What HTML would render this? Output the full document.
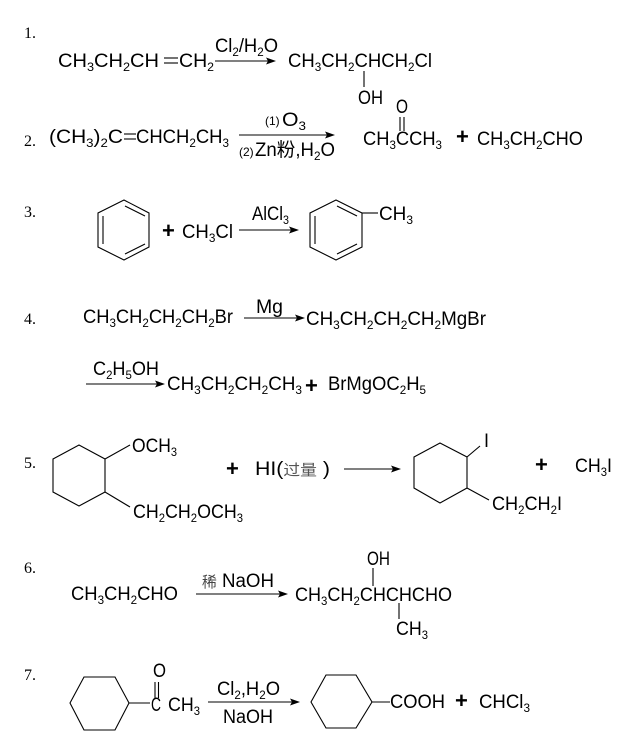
<!DOCTYPE html>
<html><head><meta charset="utf-8"><style>
html,body{margin:0;padding:0;background:#fff;}
svg{display:block;}
text{font-family:"Liberation Sans Narrow","Liberation Sans","Noto Sans CJK SC",sans-serif;font-size:19px;fill:#000;}
text.n{font-family:"Liberation Serif",serif;font-size:16px;}
tspan.s{font-size:12px;}
line,polyline,polygon.r{stroke:#000;stroke-width:1.1;fill:none;}
polygon.a{fill:#000;stroke:none;}
</style></head><body>
<svg width="640" height="736" viewBox="0 0 640 736" xmlns="http://www.w3.org/2000/svg">
<!-- 1 -->
<text class="n" x="24" y="38">1.</text>
<text x="58" y="67" textLength="101" lengthAdjust="spacingAndGlyphs">CH<tspan class="s" dy="4">3</tspan><tspan dy="-4">CH</tspan><tspan class="s" dy="4">2</tspan><tspan dy="-4">CH</tspan></text>
<line x1="164" y1="58" x2="178" y2="58"/><line x1="164" y1="63" x2="178" y2="63"/>
<text x="179" y="67" textLength="35" lengthAdjust="spacingAndGlyphs">CH<tspan class="s" dy="4">2</tspan></text>
<text x="215" y="52" textLength="63" lengthAdjust="spacingAndGlyphs">Cl<tspan class="s" dy="4">2</tspan><tspan dy="-4">/H</tspan><tspan class="s" dy="4">2</tspan><tspan dy="-4">O</tspan></text>
<line x1="215" y1="61" x2="270" y2="61"/><polygon class="a" points="276,61 266,57.5 268,61 266,64.5"/>
<text x="288" y="67" textLength="144" lengthAdjust="spacingAndGlyphs">CH<tspan class="s" dy="4">3</tspan><tspan dy="-4">CH</tspan><tspan class="s" dy="4">2</tspan><tspan dy="-4">CHCH</tspan><tspan class="s" dy="4">2</tspan><tspan dy="-4">Cl</tspan></text>
<line x1="364" y1="71" x2="364" y2="87"/>
<text x="358" y="104" textLength="25" lengthAdjust="spacingAndGlyphs">OH</text>
<!-- 2 -->
<text class="n" x="24" y="146">2.</text>
<text x="49" y="143" textLength="74" lengthAdjust="spacingAndGlyphs">(CH<tspan class="s" dy="4">3</tspan><tspan dy="-4">)</tspan><tspan class="s" dy="4">2</tspan><tspan dy="-4">C</tspan></text>
<line x1="124" y1="134" x2="136" y2="134"/><line x1="124" y1="139" x2="136" y2="139"/>
<text x="136" y="143" textLength="93" lengthAdjust="spacingAndGlyphs">CHCH<tspan class="s" dy="4">2</tspan><tspan dy="-4">CH</tspan><tspan class="s" dy="4">3</tspan></text>
<text x="265" y="125" style="font-size:12px">(1)</text>
<text x="282" y="126" textLength="24" lengthAdjust="spacingAndGlyphs">O<tspan class="s" dy="4">3</tspan></text>
<line x1="239" y1="135" x2="328" y2="135"/><polygon class="a" points="335,135 325,131.5 327,135 325,138.5"/>
<text x="239" y="156" style="font-size:12px">(2)</text>
<text x="255" y="156" textLength="80" lengthAdjust="spacingAndGlyphs">Zn粉,H<tspan class="s" dy="4">2</tspan><tspan dy="-4">O</tspan></text>
<text x="396" y="113" textLength="12" lengthAdjust="spacingAndGlyphs">O</text>
<line x1="400" y1="117" x2="400" y2="131"/><line x1="404" y1="117" x2="404" y2="131"/>
<text x="363" y="145" textLength="79" lengthAdjust="spacingAndGlyphs">CH<tspan class="s" dy="4">3</tspan><tspan dy="-4">CCH</tspan><tspan class="s" dy="4">3</tspan></text>
<text x="456" y="144" style="font-size:22px;font-weight:bold">+</text>
<text x="477" y="145" textLength="106" lengthAdjust="spacingAndGlyphs">CH<tspan class="s" dy="4">3</tspan><tspan dy="-4">CH</tspan><tspan class="s" dy="4">2</tspan><tspan dy="-4">CHO</tspan></text>
<!-- 3 -->
<text class="n" x="24" y="217">3.</text>
<polygon class="r" points="124,200 149,213 149,247 124,260 98,247 98,213"/>
<line x1="103" y1="216" x2="103" y2="244"/><line x1="125" y1="206" x2="145" y2="216"/><line x1="145" y1="244" x2="125" y2="254"/>
<text x="162" y="238" style="font-size:22px;font-weight:bold">+</text>
<text x="182" y="238" textLength="51" lengthAdjust="spacingAndGlyphs">CH<tspan class="s" dy="4">3</tspan><tspan dy="-4">Cl</tspan></text>
<text x="252" y="220" textLength="37" lengthAdjust="spacingAndGlyphs">AlCl<tspan class="s" dy="4">3</tspan></text>
<line x1="239" y1="230" x2="292" y2="230"/><polygon class="a" points="299,230 289,226.5 291,230 289,233.5"/>
<polygon class="r" points="336,200 362,213 362,247 336,260 310,247 310,213"/>
<line x1="315" y1="216" x2="315" y2="244"/><line x1="337" y1="206" x2="357" y2="216"/><line x1="357" y1="244" x2="337" y2="254"/>
<line x1="362" y1="213" x2="378" y2="213"/>
<text x="379" y="220" textLength="34" lengthAdjust="spacingAndGlyphs">CH<tspan class="s" dy="4">3</tspan></text>
<!-- 4 -->
<text class="n" x="24" y="324">4.</text>
<text x="83" y="323" textLength="150" lengthAdjust="spacingAndGlyphs">CH<tspan class="s" dy="4">3</tspan><tspan dy="-4">CH</tspan><tspan class="s" dy="4">2</tspan><tspan dy="-4">CH</tspan><tspan class="s" dy="4">2</tspan><tspan dy="-4">CH</tspan><tspan class="s" dy="4">2</tspan><tspan dy="-4">Br</tspan></text>
<text x="256" y="313" textLength="27" lengthAdjust="spacingAndGlyphs">Mg</text>
<line x1="244" y1="318" x2="298" y2="318"/><polygon class="a" points="305,318 295,314.5 297,318 295,321.5"/>
<text x="306" y="325" textLength="180" lengthAdjust="spacingAndGlyphs">CH<tspan class="s" dy="4">3</tspan><tspan dy="-4">CH</tspan><tspan class="s" dy="4">2</tspan><tspan dy="-4">CH</tspan><tspan class="s" dy="4">2</tspan><tspan dy="-4">CH</tspan><tspan class="s" dy="4">2</tspan><tspan dy="-4">MgBr</tspan></text>
<text x="93" y="375" textLength="66" lengthAdjust="spacingAndGlyphs">C<tspan class="s" dy="4">2</tspan><tspan dy="-4">H</tspan><tspan class="s" dy="4">5</tspan><tspan dy="-4">OH</tspan></text>
<line x1="86" y1="384" x2="158" y2="384"/><polygon class="a" points="165,384 155,380.5 157,384 155,387.5"/>
<text x="167" y="390" textLength="135" lengthAdjust="spacingAndGlyphs">CH<tspan class="s" dy="4">3</tspan><tspan dy="-4">CH</tspan><tspan class="s" dy="4">2</tspan><tspan dy="-4">CH</tspan><tspan class="s" dy="4">2</tspan><tspan dy="-4">CH</tspan><tspan class="s" dy="4">3</tspan></text>
<text x="305" y="393" style="font-size:22px;font-weight:bold">+</text>
<text x="328" y="390" textLength="98" lengthAdjust="spacingAndGlyphs">BrMgOC<tspan class="s" dy="4">2</tspan><tspan dy="-4">H</tspan><tspan class="s" dy="4">5</tspan></text>
<!-- 5 -->
<text class="n" x="24" y="468">5.</text>
<polygon class="r" points="53,459 79,445 105,459 105,492 79,506 53,492"/>
<line x1="105" y1="459" x2="130" y2="445"/>
<text x="132" y="452" textLength="45" lengthAdjust="spacingAndGlyphs">OCH<tspan class="s" dy="4">3</tspan></text>
<line x1="105" y1="492" x2="130" y2="507"/>
<text x="133" y="518" textLength="110" lengthAdjust="spacingAndGlyphs">CH<tspan class="s" dy="4">2</tspan><tspan dy="-4">CH</tspan><tspan class="s" dy="4">2</tspan><tspan dy="-4">OCH</tspan><tspan class="s" dy="4">3</tspan></text>
<text x="226" y="476" style="font-size:22px;font-weight:bold">+</text>
<text x="255" y="475" textLength="75" lengthAdjust="spacingAndGlyphs">HI(<tspan style="font-size:15px;fill:#555">过量</tspan> )</text>
<line x1="344" y1="469" x2="394" y2="469"/><polygon class="a" points="401,469 391,465.5 393,469 391,472.5"/>
<polygon class="r" points="414,457 440,443 467,457 467,488 440,503 414,488"/>
<line x1="467" y1="457" x2="480" y2="446"/>
<text x="484" y="447" textLength="5" lengthAdjust="spacingAndGlyphs">I</text>
<line x1="467" y1="488" x2="489" y2="500"/>
<text x="492" y="510" textLength="70" lengthAdjust="spacingAndGlyphs">CH<tspan class="s" dy="4">2</tspan><tspan dy="-4">CH</tspan><tspan class="s" dy="4">2</tspan><tspan dy="-4">I</tspan></text>
<text x="535" y="472" style="font-size:22px;font-weight:bold">+</text>
<text x="575" y="472" textLength="37" lengthAdjust="spacingAndGlyphs">CH<tspan class="s" dy="4">3</tspan><tspan dy="-4">I</tspan></text>
<!-- 6 -->
<text class="n" x="24" y="573">6.</text>
<text x="71" y="600" textLength="107" lengthAdjust="spacingAndGlyphs">CH<tspan class="s" dy="4">3</tspan><tspan dy="-4">CH</tspan><tspan class="s" dy="4">2</tspan><tspan dy="-4">CHO</tspan></text>
<text x="202" y="587" textLength="72" lengthAdjust="spacingAndGlyphs"><tspan style="font-size:15px;fill:#444">稀</tspan> NaOH</text>
<line x1="196" y1="594" x2="281" y2="594"/><polygon class="a" points="288,594 278,590.5 280,594 278,597.5"/>
<text x="295" y="601" textLength="157" lengthAdjust="spacingAndGlyphs">CH<tspan class="s" dy="4">3</tspan><tspan dy="-4">CH</tspan><tspan class="s" dy="4">2</tspan><tspan dy="-4">CHCHCHO</tspan></text>
<text x="367" y="565" textLength="23" lengthAdjust="spacingAndGlyphs">OH</text>
<line x1="373" y1="568" x2="373" y2="586"/>
<line x1="399" y1="603" x2="399" y2="619"/>
<text x="396" y="635" textLength="32" lengthAdjust="spacingAndGlyphs">CH<tspan class="s" dy="4">3</tspan></text>
<!-- 7 -->
<text class="n" x="24" y="680">7.</text>
<polygon class="r" points="70,703 84,677 115,677 129,703 115,730 84,730"/>
<line x1="129" y1="703" x2="150" y2="703"/>
<text x="153" y="677" textLength="13" lengthAdjust="spacingAndGlyphs">O</text>
<line x1="155" y1="682" x2="155" y2="698"/><line x1="158.5" y1="682" x2="158.5" y2="698"/>
<text x="151" y="711" textLength="10" lengthAdjust="spacingAndGlyphs">C</text>
<text x="168" y="711" textLength="32" lengthAdjust="spacingAndGlyphs">CH<tspan class="s" dy="4">3</tspan></text>
<text x="217" y="695" textLength="63" lengthAdjust="spacingAndGlyphs">Cl<tspan class="s" dy="4">2</tspan><tspan dy="-4">,H</tspan><tspan class="s" dy="4">2</tspan><tspan dy="-4">O</tspan></text>
<line x1="208" y1="702" x2="293" y2="702"/><polygon class="a" points="300,702 290,698.5 292,702 290,705.5"/>
<text x="223" y="723" textLength="50" lengthAdjust="spacingAndGlyphs">NaOH</text>
<polygon class="r" points="311,702 326,675 356,675 372,702 356,728 326,728"/>
<line x1="372" y1="702" x2="390" y2="702"/>
<text x="390" y="708" textLength="55" lengthAdjust="spacingAndGlyphs">COOH</text>
<text x="455" y="708" style="font-size:22px;font-weight:bold">+</text>
<text x="479" y="708" textLength="51" lengthAdjust="spacingAndGlyphs">CHCl<tspan class="s" dy="4">3</tspan></text>
</svg>
</body></html>
